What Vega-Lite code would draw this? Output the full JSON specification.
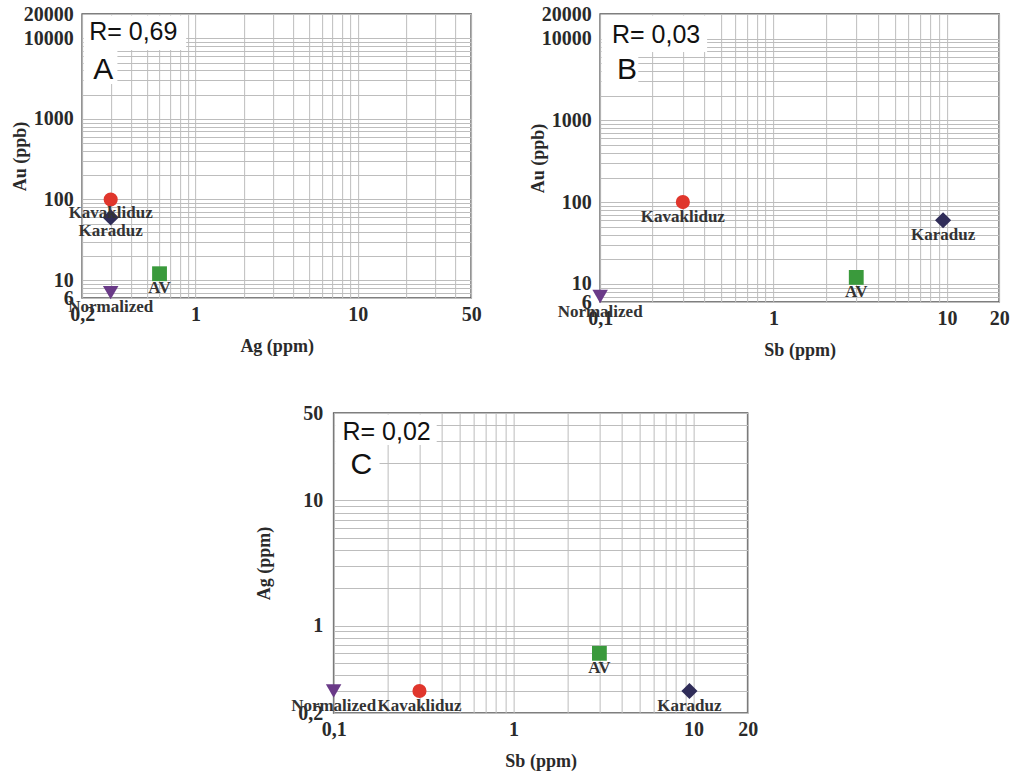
{
  "$schema": "https://vega.github.io/schema/vega-lite/v6.json",
  "background": "white",
  "padding": {"left": 10, "top": 3, "right": 3, "bottom": 5},
  "config": {
    "view": {"stroke": "#555555", "strokeWidth": 1.5},
    "axis": {
      "grid": true, "gridColor": "#bdbdbd", "gridWidth": 1, "ticks": false, "domain": false,
      "labelFont": "Liberation Serif", "labelFontWeight": "bold", "labelFontSize": 20, "labelColor": "#2a2a2a",
      "titleFont": "Liberation Serif", "titleFontWeight": "bold", "titleFontSize": 18, "titleColor": "#2a2a2a",
      "labelOverlap": false, "labelBound": false, "labelFlush": false
    },
    "axisX": {"labelPadding": 6, "titlePadding": 13},
    "axisY": {"labelPadding": 9, "titlePadding": -6}
  },
  "datasets": {
    "pts": [
      {"sample": "Kavakliduz", "Ag": 0.3, "Au": 100, "Sb": 0.3},
      {"sample": "Karaduz", "Ag": 0.3, "Au": 60, "Sb": 9.5},
      {"sample": "AV", "Ag": 0.6, "Au": 12, "Sb": 3},
      {"sample": "Normalized", "Ag": 0.3, "Au": 7, "Sb": 0.1}
    ]
  },
  "center": true,
  "spacing": 42,
  "vconcat": [
    {
      "spacing": 46,
      "hconcat": [
        {
          "width": 389, "height": 284,
          "layer": [
            {
              "data": {"values": [{"x1": 0.2045, "x2": 0.876, "y1": 7140, "y2": 19100}, {"x1": 0.2045, "x2": 0.33, "y1": 2710, "y2": 7140}]},
              "mark": {"type": "rect", "fill": "white"},
              "encoding": {
                "x": {"field": "x1", "type": "quantitative", "title": "Ag (ppm)"},
                "x2": {"field": "x2"},
                "y": {"field": "y1", "type": "quantitative", "title": "Au (ppb)"},
                "y2": {"field": "y2"}
              }
            },
            {
              "data": {"name": "pts"},
              "mark": {"type": "point", "filled": true, "opacity": 1},
              "encoding": {
                "x": {"field": "Ag", "type": "quantitative", "title": "Ag (ppm)",
                  "scale": {"type": "log", "domain": [0.2, 50], "nice": false},
                  "axis": {"values": [0.2,0.3,0.4,0.5,0.6,0.7,0.8,0.9,1,2,3,4,5,6,7,8,9,10,20,30,40,50],
                    "labelExpr": "indexof([0.2,1,10,50], datum.value) >= 0 ? replace(toString(datum.value), '.', ',') : ''"}},
                "y": {"field": "Au", "type": "quantitative", "title": "Au (ppb)",
                  "scale": {"type": "log", "domain": [6, 20000], "nice": false},
                  "axis": {"values": [6,7,8,9,10,20,30,40,50,60,70,80,90,100,200,300,400,500,600,700,800,900,1000,2000,3000,4000,5000,6000,7000,8000,9000,10000,20000],
                    "labelExpr": "indexof([6,10,100,1000,10000,20000], datum.value) >= 0 ? replace(toString(datum.value), '.', ',') : ''"}},
                "shape": {"field": "sample", "type": "nominal", "legend": null,
                  "scale": {"domain": ["Kavakliduz", "Karaduz", "AV", "Normalized"], "range": ["circle", "diamond", "square", "triangle-down"]}},
                "color": {"field": "sample", "type": "nominal", "legend": null,
                  "scale": {"domain": ["Kavakliduz", "Karaduz", "AV", "Normalized"], "range": ["#e0362c", "#2f2c58", "#3a9a3c", "#6a3a88"]}},
                "size": {"field": "sample", "type": "nominal", "legend": null,
                  "scale": {"type": "ordinal", "domain": ["Kavakliduz", "Karaduz", "AV", "Normalized"], "range": [200, 260, 220, 240]}}
              }
            },
            {
              "data": {"name": "pts"},
              "mark": {"type": "text", "dy": 14, "font": "Liberation Serif", "fontWeight": "bold", "fontSize": 17, "color": "#333333", "align": "center", "baseline": "middle"},
              "encoding": {
                "x": {"field": "Ag", "type": "quantitative", "title": "Ag (ppm)"},
                "y": {"field": "Au", "type": "quantitative", "title": "Au (ppb)"},
                "text": {"field": "sample"}
              }
            },
            {
              "data": {"values": [{"x": 0.221, "y": 11960, "label": "R= 0,69"}]},
              "mark": {"type": "text", "font": "Liberation Sans", "fontSize": 25, "color": "#111111", "align": "left", "baseline": "middle"},
              "encoding": {
                "x": {"field": "x", "type": "quantitative", "title": "Ag (ppm)"},
                "y": {"field": "y", "type": "quantitative", "title": "Au (ppb)"},
                "text": {"field": "label"}
              }
            },
            {
              "data": {"values": [{"x": 0.234, "y": 4035, "label": "A"}]},
              "mark": {"type": "text", "font": "Liberation Sans", "fontSize": 30, "color": "#111111", "align": "left", "baseline": "middle"},
              "encoding": {
                "x": {"field": "x", "type": "quantitative", "title": "Ag (ppm)"},
                "y": {"field": "y", "type": "quantitative", "title": "Au (ppb)"},
                "text": {"field": "label"}
              }
            }
          ]
        },
        {
          "width": 399, "height": 288,
          "layer": [
            {
              "data": {"values": [{"x1": 0.102, "x2": 0.414, "y1": 6850, "y2": 19160}, {"x1": 0.102, "x2": 0.166, "y1": 2710, "y2": 6850}]},
              "mark": {"type": "rect", "fill": "white"},
              "encoding": {
                "x": {"field": "x1", "type": "quantitative", "title": "Sb (ppm)"},
                "x2": {"field": "x2"},
                "y": {"field": "y1", "type": "quantitative", "title": "Au (ppb)"},
                "y2": {"field": "y2"}
              }
            },
            {
              "data": {"name": "pts"},
              "mark": {"type": "point", "filled": true, "opacity": 1},
              "encoding": {
                "x": {"field": "Sb", "type": "quantitative", "title": "Sb (ppm)",
                  "scale": {"type": "log", "domain": [0.1, 20], "nice": false},
                  "axis": {"values": [0.1,0.2,0.3,0.4,0.5,0.6,0.7,0.8,0.9,1,2,3,4,5,6,7,8,9,10,20],
                    "labelExpr": "indexof([0.1,1,10,20], datum.value) >= 0 ? replace(toString(datum.value), '.', ',') : ''"}},
                "y": {"field": "Au", "type": "quantitative", "title": "Au (ppb)",
                  "scale": {"type": "log", "domain": [6, 20000], "nice": false},
                  "axis": {"values": [6,7,8,9,10,20,30,40,50,60,70,80,90,100,200,300,400,500,600,700,800,900,1000,2000,3000,4000,5000,6000,7000,8000,9000,10000,20000],
                    "labelExpr": "indexof([6,10,100,1000,10000,20000], datum.value) >= 0 ? replace(toString(datum.value), '.', ',') : ''"}},
                "shape": {"field": "sample", "type": "nominal", "legend": null,
                  "scale": {"domain": ["Kavakliduz", "Karaduz", "AV", "Normalized"], "range": ["circle", "diamond", "square", "triangle-down"]}},
                "color": {"field": "sample", "type": "nominal", "legend": null,
                  "scale": {"domain": ["Kavakliduz", "Karaduz", "AV", "Normalized"], "range": ["#e0362c", "#2f2c58", "#3a9a3c", "#6a3a88"]}},
                "size": {"field": "sample", "type": "nominal", "legend": null,
                  "scale": {"type": "ordinal", "domain": ["Kavakliduz", "Karaduz", "AV", "Normalized"], "range": [200, 260, 220, 240]}}
              }
            },
            {
              "data": {"name": "pts"},
              "mark": {"type": "text", "dy": 15, "font": "Liberation Serif", "fontWeight": "bold", "fontSize": 17, "color": "#333333", "align": "center", "baseline": "middle"},
              "encoding": {
                "x": {"field": "Sb", "type": "quantitative", "title": "Sb (ppm)"},
                "y": {"field": "Au", "type": "quantitative", "title": "Au (ppb)"},
                "text": {"field": "sample"}
              }
            },
            {
              "data": {"values": [{"x": 0.117, "y": 11070, "label": "R= 0,03"}]},
              "mark": {"type": "text", "font": "Liberation Sans", "fontSize": 25, "color": "#111111", "align": "left", "baseline": "middle"},
              "encoding": {
                "x": {"field": "x", "type": "quantitative", "title": "Sb (ppm)"},
                "y": {"field": "y", "type": "quantitative", "title": "Au (ppb)"},
                "text": {"field": "label"}
              }
            },
            {
              "data": {"values": [{"x": 0.125, "y": 4130, "label": "B"}]},
              "mark": {"type": "text", "font": "Liberation Sans", "fontSize": 30, "color": "#111111", "align": "left", "baseline": "middle"},
              "encoding": {
                "x": {"field": "x", "type": "quantitative", "title": "Sb (ppm)"},
                "y": {"field": "y", "type": "quantitative", "title": "Au (ppb)"},
                "text": {"field": "label"}
              }
            }
          ]
        }
      ]
    },
    {
      "width": 414, "height": 300,
      "layer": [
        {
          "data": {"values": [{"x1": 0.102, "x2": 0.374, "y1": 27.7, "y2": 48.6}, {"x1": 0.102, "x2": 0.18, "y1": 14.0, "y2": 27.7}]},
          "mark": {"type": "rect", "fill": "white"},
          "encoding": {
            "x": {"field": "x1", "type": "quantitative", "title": "Sb (ppm)"},
            "x2": {"field": "x2"},
            "y": {"field": "y1", "type": "quantitative", "title": "Ag (ppm)"},
            "y2": {"field": "y2"}
          }
        },
        {
          "data": {"name": "pts"},
          "mark": {"type": "point", "filled": true, "opacity": 1},
          "encoding": {
            "x": {"field": "Sb", "type": "quantitative", "title": "Sb (ppm)",
              "scale": {"type": "log", "domain": [0.1, 20], "nice": false},
              "axis": {"values": [0.1,0.2,0.3,0.4,0.5,0.6,0.7,0.8,0.9,1,2,3,4,5,6,7,8,9,10,20],
                "labelExpr": "indexof([0.1,1,10,20], datum.value) >= 0 ? replace(toString(datum.value), '.', ',') : ''"}},
            "y": {"field": "Ag", "type": "quantitative", "title": "Ag (ppm)",
              "scale": {"type": "log", "domain": [0.2, 50], "nice": false},
              "axis": {"titlePadding": 24, "labelPadding": 11, "values": [0.2,0.3,0.4,0.5,0.6,0.7,0.8,0.9,1,2,3,4,5,6,7,8,9,10,20,30,40,50],
                "labelExpr": "indexof([0.2,1,10,50], datum.value) >= 0 ? replace(toString(datum.value), '.', ',') : ''"}},
            "shape": {"field": "sample", "type": "nominal", "legend": null,
              "scale": {"domain": ["Kavakliduz", "Karaduz", "AV", "Normalized"], "range": ["circle", "diamond", "square", "triangle-down"]}},
            "color": {"field": "sample", "type": "nominal", "legend": null,
              "scale": {"domain": ["Kavakliduz", "Karaduz", "AV", "Normalized"], "range": ["#e0362c", "#2f2c58", "#3a9a3c", "#6a3a88"]}},
            "size": {"field": "sample", "type": "nominal", "legend": null,
              "scale": {"type": "ordinal", "domain": ["Kavakliduz", "Karaduz", "AV", "Normalized"], "range": [200, 260, 220, 240]}}
          }
        },
        {
          "data": {"name": "pts"},
          "mark": {"type": "text", "dy": 15, "font": "Liberation Serif", "fontWeight": "bold", "fontSize": 17, "color": "#333333", "align": "center", "baseline": "middle"},
          "encoding": {
            "x": {"field": "Sb", "type": "quantitative", "title": "Sb (ppm)"},
            "y": {"field": "Ag", "type": "quantitative", "title": "Ag (ppm)"},
            "text": {"field": "sample"}
          }
        },
        {
          "data": {"values": [{"x": 0.112, "y": 35.2, "label": "R= 0,02"}]},
          "mark": {"type": "text", "font": "Liberation Sans", "fontSize": 25, "color": "#111111", "align": "left", "baseline": "middle"},
          "encoding": {
            "x": {"field": "x", "type": "quantitative", "title": "Sb (ppm)"},
            "y": {"field": "y", "type": "quantitative", "title": "Ag (ppm)"},
            "text": {"field": "label"}
          }
        },
        {
          "data": {"values": [{"x": 0.124, "y": 19.2, "label": "C"}]},
          "mark": {"type": "text", "font": "Liberation Sans", "fontSize": 30, "color": "#111111", "align": "left", "baseline": "middle"},
          "encoding": {
            "x": {"field": "x", "type": "quantitative", "title": "Sb (ppm)"},
            "y": {"field": "y", "type": "quantitative", "title": "Ag (ppm)"},
            "text": {"field": "label"}
          }
        }
      ]
    }
  ]
}
